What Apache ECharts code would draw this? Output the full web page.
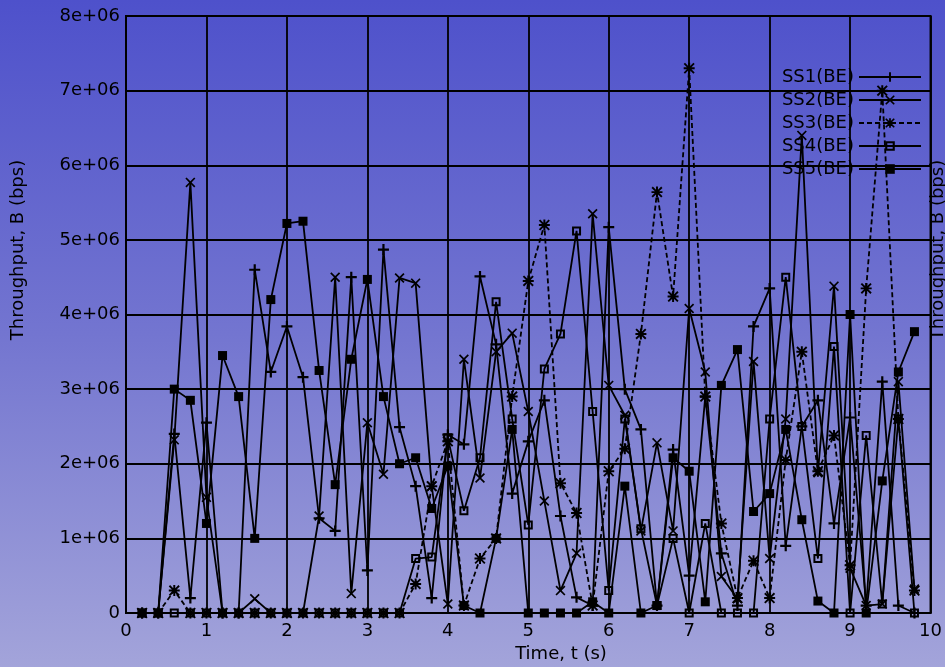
<!DOCTYPE html>
<html><head><meta charset="utf-8">
<script src="https://cdn.jsdelivr.net/npm/echarts@6/dist/echarts.min.js"></script>
<style>html,body{margin:0;padding:0;overflow:hidden}#c{width:945px;height:667px;}</style>
</head><body><div id="c"></div>
<script>
// time samples (s)
const times = [0.2,0.4,0.6,0.8,1.0,1.2,1.4,1.6,1.8,2.0,2.2,2.4,2.6,2.8,3.0,3.2,3.4,3.6,3.8,4.0,4.2,4.4,4.6,4.8,5.0,5.2,5.4,5.6,5.8,6.0,6.2,6.4,6.6,6.8,7.0,7.2,7.4,7.6,7.8,8.0,8.2,8.4,8.6,8.8,9.0,9.2,9.4,9.6,9.8];
// throughput values, in units of 1e+06 bps
const ss1 = [0,0,2.4,0.2,2.55,0,0,4.6,3.23,3.84,3.16,1.27,1.1,4.5,0.57,4.87,2.49,1.7,0.2,2.39,2.26,4.51,3.6,1.6,2.3,2.85,1.3,0.21,0.1,5.17,3.0,2.46,0.1,2.19,0.5,2.9,0.8,0.1,3.84,4.35,0.9,2.5,2.85,1.2,2.62,0.1,3.1,0.1,0];
const ss2 = [0,0,2.32,5.77,1.55,0,0,0.19,0,0,0,1.3,4.5,0.26,2.55,1.86,4.49,4.42,1.7,0.12,3.4,1.81,3.5,3.75,2.7,1.5,0.3,0.8,5.35,3.05,2.65,1.1,2.28,1.1,4.08,3.23,0.49,0.19,3.37,0.73,2.6,6.4,1.88,4.38,0.6,0.1,0.12,3.1,0.32];
const ss3 = [0,0,0.3,0,0,0,0,0,0,0,0,0,0,0,0,0,0,0.39,1.7,2.3,0.1,0.73,1.0,2.9,4.45,5.2,1.74,1.34,0.1,1.9,2.2,3.74,5.64,4.24,7.3,2.9,1.2,0.2,0.7,0.2,2.05,3.5,1.9,2.38,0.64,4.35,7.0,2.6,0.3];
const ss4 = [0,0,0,0,0,0,0,0,0,0,0,0,0,0,0,0,0,0.73,0.75,2.35,1.37,2.08,4.17,2.6,1.18,3.27,3.74,5.12,2.7,0.3,2.6,1.13,0.1,1.0,0,1.2,0,0,0,2.6,4.5,2.5,0.73,3.57,0,2.38,0.12,2.6,0];
const ss5 = [0,0,3.0,2.85,1.2,3.45,2.9,1.0,4.2,5.22,5.25,3.25,1.72,3.4,4.47,2.9,2.0,2.08,1.4,1.97,0.1,0,1.0,2.46,0,0,0,0,0.15,0,1.7,0,0.1,2.08,1.9,0.15,3.05,3.53,1.36,1.6,2.46,1.25,0.16,0,4.0,0,1.77,3.23,3.77];
const seriesNames = ['SS1(BE)','SS2(BE)','SS3(BE)','SS4(BE)','SS5(BE)'];
const yTickLabels = ['0','1e+06','2e+06','3e+06','4e+06','5e+06','6e+06','7e+06','8e+06'];
const xTickLabels = ['0','1','2','3','4','5','6','7','8','9','10'];

const FONT = '"DejaVu Sans", sans-serif';
const PLUS = 'path://M4,0H6V4H10V6H6V10H4V6H0V4H4Z';
const CROSS = 'path://M0,1.2L1.2,0L5,3.8L8.8,0L10,1.2L6.2,5L10,8.8L8.8,10L5,6.2L1.2,10L0,8.8L3.8,5Z';
const STAR = 'path://M4.1,0H5.9V4.1H10V5.9H5.9V10H4.1V5.9H0V4.1H4.1Z M0,1.2L1.2,0L5,3.8L8.8,0L10,1.2L6.2,5L10,8.8L8.8,10L5,6.2L1.2,10L0,8.8L3.8,5Z';
const OPENSQ = 'path://M0,0H10V10H0Z M2.2,2.2V7.8H7.8V2.2Z';

const allValues = [ss1, ss2, ss3, ss4, ss5];
const symbols = [PLUS, CROSS, STAR, OPENSQ, 'rect'];
const sizes = [11, 10, 11, 9, 9];
const dashes = ['solid','solid',[5,3],'solid','solid'];

const series = allValues.map((vals, k) => ({
  type: 'line',
  name: seriesNames[k],
  data: times.map((t, i) => [t, vals[i]]),
  symbol: symbols[k],
  symbolSize: sizes[k],
  showAllSymbol: true,
  lineStyle: { color: '#000', width: 1.8, type: dashes[k] },
  itemStyle: { color: '#000' },
  z: 2 + k
}));

const chart = echarts.init(document.getElementById('c'));
chart.setOption({
  animation: false,
  backgroundColor: { type: 'linear', x: 0, y: 0, x2: 0, y2: 1,
    colorStops: [{offset: 0, color: '#4E51CB'}, {offset: 0.5, color: '#7375D0'}, {offset: 1, color: '#A3A4DA'}] },
  grid: { left: 126, right: 8, top: 16, bottom: 54, show: true, borderColor: '#000', borderWidth: 2 },
  xAxis: {
    type: 'value', min: 0, max: 10, interval: 1,
    axisLine: { show: true, lineStyle: { color: '#000', width: 2 } },
    axisTick: { show: false },
    splitLine: { show: true, lineStyle: { color: '#000', width: 1.8 } },
    axisLabel: { color: '#000', fontFamily: FONT, fontSize: 18, margin: 9,
      formatter: v => xTickLabels[Math.round(v)] }
  },
  yAxis: {
    type: 'value', min: 0, max: 8, interval: 1,
    axisLine: { show: true, lineStyle: { color: '#000', width: 2 } },
    axisTick: { show: false },
    splitLine: { show: true, lineStyle: { color: '#000', width: 1.8 } },
    axisLabel: { color: '#000', fontFamily: FONT, fontSize: 18, margin: 6,
      formatter: v => yTickLabels[Math.round(v)] }
  },
  legend: {
    data: seriesNames, orient: 'vertical', align: 'right',
    right: 18, top: 63, itemWidth: 62, itemHeight: 12, itemGap: 5,
    textStyle: { color: '#000', fontFamily: FONT, fontSize: 18 },
    z: 20
  },
  graphic: [
    { type: 'text', x: 18, y: 250, rotation: Math.PI / 2,
      style: { text: 'Throughput, B (bps)', fill: '#000', font: '18px ' + FONT, align: 'center', verticalAlign: 'middle' } },
    { type: 'text', x: 938, y: 250, rotation: Math.PI / 2, z: 30,
      style: { text: 'Throughput, B (bps)', fill: '#000', font: '18px ' + FONT, align: 'center', verticalAlign: 'middle' } },
    { type: 'text', x: 561, y: 654,
      style: { text: 'Time, t (s)', fill: '#000', font: '18px ' + FONT, align: 'center', verticalAlign: 'middle' } }
  ],
  series: series
});
</script></body></html>
